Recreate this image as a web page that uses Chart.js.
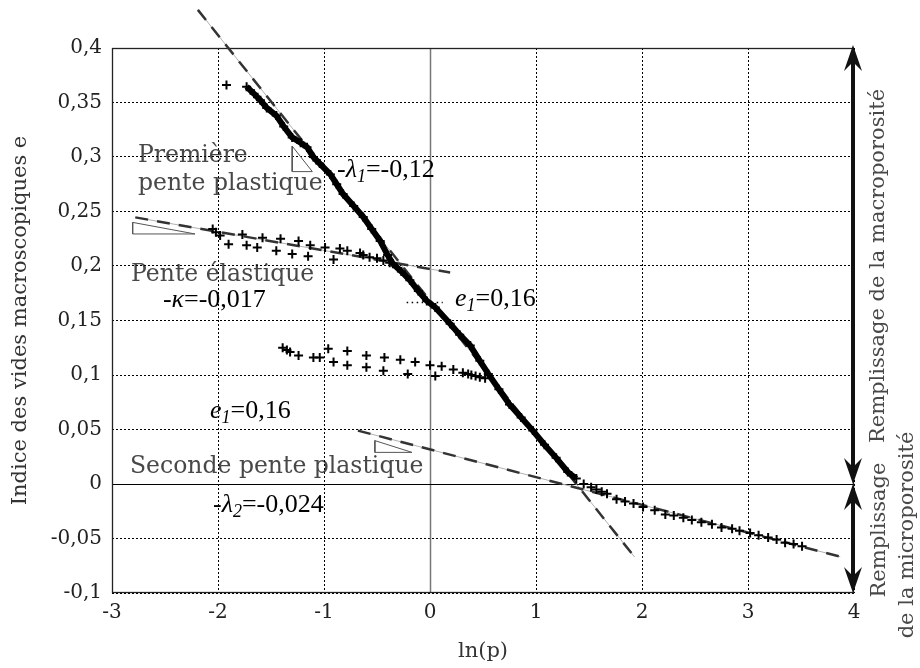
<!DOCTYPE html>
<html>
<head>
<meta charset="utf-8">
<script src="https://cdn.jsdelivr.net/npm/chart.js@4.4.0/dist/chart.umd.min.js"></script>
<style>
  html, body { margin: 0; padding: 0; background: #fff; }
  #cadre { width: 920px; height: 668px; }
</style>
</head>
<body>
<div id="cadre"><canvas id="graphe"></canvas></div>
<script>
// axes
const xTicks = [-3, -2, -1, 0, 1, 2, 3, 4];
const xTickLabels = ['-3', '-2', '-1', '0', '1', '2', '3', '4'];
const yTicks = [-0.1, -0.05, 0, 0.05, 0.1, 0.15, 0.2, 0.25, 0.3, 0.35, 0.4];
const yTickLabels = ['-0,1', '-0,05', '0', '0,05', '0,1', '0,15', '0,2', '0,25', '0,3', '0,35', '0,4'];

// chargement principal (partie dense)
const chargement = [
  {x: -1.73, y: 0.3645}, {x: -1.66, y: 0.358}, {x: -1.60, y: 0.352}, {x: -1.54, y: 0.345},
  {x: -1.45, y: 0.338}, {x: -1.38, y: 0.328}, {x: -1.30, y: 0.318}, {x: -1.22, y: 0.313},
  {x: -1.16, y: 0.309}, {x: -1.10, y: 0.300}, {x: -1.04, y: 0.294}, {x: -0.94, y: 0.284},
  {x: -0.88, y: 0.275}, {x: -0.82, y: 0.266}, {x: -0.72, y: 0.255}, {x: -0.63, y: 0.245},
  {x: -0.55, y: 0.234}, {x: -0.47, y: 0.223}, {x: -0.40, y: 0.210}, {x: -0.35, y: 0.202},
  {x: -0.27, y: 0.195}, {x: -0.19, y: 0.187}, {x: -0.11, y: 0.177}, {x: -0.03, y: 0.168},
  {x: 0.05, y: 0.162}, {x: 0.19, y: 0.147}, {x: 0.28, y: 0.137}, {x: 0.38, y: 0.127},
  {x: 0.47, y: 0.113}, {x: 0.55, y: 0.101}, {x: 0.65, y: 0.087}, {x: 0.75, y: 0.073},
  {x: 0.86, y: 0.061}, {x: 0.97, y: 0.049}, {x: 1.08, y: 0.036}, {x: 1.19, y: 0.024},
  {x: 1.30, y: 0.011}, {x: 1.38, y: 0.005}
];
// fin du chargement (seconde pente)
const chargementFin = [
  {x: 1.45, y: 0.000}, {x: 1.52, y: -0.003}, {x: 1.57, y: -0.005}, {x: 1.62, y: -0.007},
  {x: 1.67, y: -0.009}, {x: 1.76, y: -0.014}, {x: 1.84, y: -0.016}, {x: 1.92, y: -0.018},
  {x: 2.01, y: -0.021}, {x: 2.12, y: -0.024}, {x: 2.22, y: -0.028}, {x: 2.30, y: -0.029},
  {x: 2.39, y: -0.031}, {x: 2.47, y: -0.033}, {x: 2.56, y: -0.035}, {x: 2.66, y: -0.037},
  {x: 2.75, y: -0.040}, {x: 2.85, y: -0.041}, {x: 2.92, y: -0.043}, {x: 3.02, y: -0.045},
  {x: 3.10, y: -0.047}, {x: 3.19, y: -0.049}, {x: 3.27, y: -0.051}, {x: 3.35, y: -0.054},
  {x: 3.43, y: -0.055}, {x: 3.51, y: -0.057}
];
const pointIsole = [{x: -1.92, y: 0.366}];

// cycle decharge / recharge 1
const cycle1 = [
  {x: -2.05, y: 0.234}, {x: -2.02, y: 0.231}, {x: -1.98, y: 0.228}, {x: -1.77, y: 0.229},
  {x: -1.58, y: 0.226}, {x: -1.41, y: 0.225}, {x: -1.24, y: 0.223}, {x: -1.13, y: 0.219},
  {x: -0.99, y: 0.217}, {x: -0.85, y: 0.216}, {x: -0.78, y: 0.214}, {x: -0.66, y: 0.212},
  {x: -0.57, y: 0.208}, {x: -0.50, y: 0.207}, {x: -0.44, y: 0.205}, {x: -0.38, y: 0.203},
  {x: -1.90, y: 0.220}, {x: -1.73, y: 0.219}, {x: -1.63, y: 0.217}, {x: -1.45, y: 0.214},
  {x: -1.30, y: 0.211}, {x: -1.15, y: 0.209}, {x: -0.91, y: 0.206}, {x: -0.63, y: 0.210}
];
// cycle decharge / recharge 2
const cycle2 = [
  {x: -1.39, y: 0.125}, {x: -1.35, y: 0.123}, {x: -1.32, y: 0.121}, {x: -1.24, y: 0.118},
  {x: -1.10, y: 0.116}, {x: -1.04, y: 0.116}, {x: -0.96, y: 0.124}, {x: -0.91, y: 0.112},
  {x: -0.78, y: 0.122}, {x: -0.78, y: 0.109}, {x: -0.60, y: 0.118}, {x: -0.60, y: 0.107},
  {x: -0.43, y: 0.116}, {x: -0.44, y: 0.104}, {x: -0.28, y: 0.114}, {x: -0.21, y: 0.101},
  {x: -0.14, y: 0.112}, {x: 0.00, y: 0.109}, {x: 0.05, y: 0.099}, {x: 0.11, y: 0.108},
  {x: 0.22, y: 0.105}, {x: 0.31, y: 0.102}, {x: 0.36, y: 0.101}, {x: 0.39, y: 0.100},
  {x: 0.43, y: 0.099}, {x: 0.47, y: 0.098}, {x: 0.52, y: 0.097}
];

// droites de pente
const pente1 = [{x: -2.19, y: 0.435}, {x: 1.93, y: -0.067}];
const penteElastique = [{x: -2.78, y: 0.2446}, {x: 0.19, y: 0.194}];
const pente2 = [{x: -0.68, y: 0.049}, {x: 3.87, y: -0.0667}];
const repereE1 = [{x: -0.22, y: 0.1666}, {x: 0.12, y: 0.1666}];

// petits triangles de pente
const triangle1 = [{x: -1.30, y: 0.310}, {x: -1.30, y: 0.2866}, {x: -1.11, y: 0.2866}, {x: -1.30, y: 0.310}];
const triangle2 = [{x: -2.805, y: 0.240}, {x: -2.805, y: 0.2294}, {x: -2.217, y: 0.2294}, {x: -2.805, y: 0.240}];
const triangle3 = [{x: -0.52, y: 0.0398}, {x: -0.52, y: 0.029}, {x: -0.17, y: 0.029}, {x: -0.52, y: 0.0398}];

const SERIF_CM = '"DejaVu Serif", serif';
const SERIF_T = '"Liberation Serif", "Times New Roman", serif';
const GRIS = '#484848';

function ligneGrise(data) {
  return { data, showLine: true, borderColor: '#b0b0b0', borderWidth: 1, pointRadius: 0, clip: false, order: 6 };
}
function ligneTirets(data) {
  return { data, showLine: true, borderColor: '#333', borderWidth: 2.5, borderDash: [13, 9], pointRadius: 0, clip: false, order: 5 };
}
function triangle(data) {
  return { data, showLine: true, borderColor: '#555', borderWidth: 1, pointRadius: 0, order: 4 };
}
function croix(data, extra) {
  return Object.assign({ data, pointStyle: 'cross', pointRadius: 4.5, borderColor: '#000', borderWidth: 2, showLine: false, order: 1 }, extra || {});
}

function texteRiche(ctx, segs, x, y, taille) {
  let cx = x;
  for (const s of segs) {
    const fs = Math.round(s.sub ? taille * 0.68 : taille);
    ctx.font = (s.it ? 'italic ' : '') + fs + 'px ' + SERIF_T;
    ctx.fillText(s.t, cx, y + (s.sub ? Math.round(taille * 0.2) : 0));
    cx += ctx.measureText(s.t).width;
  }
}

function pointe(ctx, x, yTip, dir) {
  const L = 26, W = 9, N = 9;
  ctx.beginPath();
  ctx.moveTo(x, yTip);
  ctx.lineTo(x - W, yTip - dir * L);
  ctx.lineTo(x, yTip - dir * (L - N));
  ctx.lineTo(x + W, yTip - dir * L);
  ctx.closePath();
  ctx.fill();
}

const decor = {
  id: 'decor',
  beforeDraw(chart) {
    const {ctx, scales: {x, y}} = chart;
    const gris = [
      ['Première', -2.755, 0.295],
      ['pente plastique', -2.755, 0.270],
      ['Pente élastique', -2.82, 0.1865],
      ['Seconde pente plastique', -2.83, 0.0104]
    ];
    ctx.save();
    ctx.fillStyle = GRIS;
    ctx.font = '23.5px ' + SERIF_CM;
    ctx.textBaseline = 'alphabetic';
    ctx.textAlign = 'left';
    for (const [t, vx, vy] of gris) ctx.fillText(t, x.getPixelForValue(vx), y.getPixelForValue(vy));
    ctx.restore();
  },
  beforeDatasetsDraw(chart) {
    const {ctx, chartArea: a, scales: {x, y}} = chart;
    ctx.save();
    // axe x = 0 (gris) et y = 0 (noir)
    const x0 = Math.round(x.getPixelForValue(0)) + 0.5;
    const y0 = Math.round(y.getPixelForValue(0)) + 0.5;
    ctx.strokeStyle = '#777';
    ctx.lineWidth = 1.5;
    ctx.beginPath(); ctx.moveTo(x0, a.top); ctx.lineTo(x0, a.bottom); ctx.stroke();
    ctx.strokeStyle = '#000';
    ctx.lineWidth = 1.2;
    ctx.beginPath(); ctx.moveTo(a.left, y0); ctx.lineTo(a.right, y0); ctx.stroke();
    // cadre
    ctx.lineWidth = 1.3;
    ctx.strokeStyle = '#222';
    ctx.strokeRect(a.left + 0.5, a.top + 0.5, a.right - a.left - 1, a.bottom - a.top - 1);
    ctx.restore();
  },
  afterDatasetsDraw(chart) {
    const {ctx, chartArea: a, scales: {x, y}} = chart;
    ctx.save();
    ctx.fillStyle = '#000';
    ctx.textBaseline = 'alphabetic';
    ctx.textAlign = 'left';
    const P = (vx, vy) => [x.getPixelForValue(vx), y.getPixelForValue(vy)];
    const T = 26;
    let p;
    p = P(-0.877, 0.282);
    texteRiche(ctx, [{t: '-'}, {t: 'λ', it: true}, {t: '1', it: true, sub: true}, {t: '=-0,12'}], p[0], p[1], T);
    p = P(-2.52, 0.1627);
    texteRiche(ctx, [{t: '-'}, {t: 'κ', it: true}, {t: '=-0,017'}], p[0], p[1], T);
    p = P(0.236, 0.1636);
    texteRiche(ctx, [{t: 'e', it: true}, {t: '1', it: true, sub: true}, {t: '=0,16'}], p[0], p[1], T);
    p = P(-2.075, 0.0608);
    texteRiche(ctx, [{t: 'e', it: true}, {t: '1', it: true, sub: true}, {t: '=0,16'}], p[0], p[1], T);
    p = P(-2.047, -0.0254);
    texteRiche(ctx, [{t: '-'}, {t: 'λ', it: true}, {t: '2', it: true, sub: true}, {t: '=-0,024'}], p[0], p[1], T);

    // doubles fleches a droite
    const xf = a.right - 1;
    const yHaut = y.getPixelForValue(0.4) - 3;
    const yMil = y.getPixelForValue(0);
    const yBas = y.getPixelForValue(-0.1);
    ctx.strokeStyle = '#111';
    ctx.fillStyle = '#111';
    ctx.lineWidth = 4;
    ctx.beginPath(); ctx.moveTo(xf, yHaut + 12); ctx.lineTo(xf, yMil - 12); ctx.stroke();
    ctx.beginPath(); ctx.moveTo(xf, yMil + 12); ctx.lineTo(xf, yBas - 12); ctx.stroke();
    pointe(ctx, xf, yHaut, -1);
    pointe(ctx, xf, yMil, 1);
    pointe(ctx, xf, yMil, -1);
    pointe(ctx, xf, yBas, 1);

    // textes verticaux
    ctx.fillStyle = GRIS;
    ctx.font = '21px ' + SERIF_CM;
    ctx.textAlign = 'center';
    ctx.textBaseline = 'middle';
    const vertical = (t, cx, cy) => {
      ctx.save(); ctx.translate(cx, cy); ctx.rotate(-Math.PI / 2); ctx.fillText(t, 0, 0); ctx.restore();
    };
    vertical('Remplissage de la macroporosité', 879, 266);
    vertical('Remplissage', 880, 530);
    vertical('de la microporosité', 908, 535);
    ctx.restore();
  }
};

new Chart(document.getElementById('graphe'), {
  type: 'scatter',
  data: {
    datasets: [
      croix(chargement, { showLine: true, borderWidth: 2, pointRadius: 4.5, borderColor: '#000', backgroundColor: '#000' }),
      Object.assign(ligneTirets(chargement), { borderDash: [], borderWidth: 6, borderColor: '#000', clip: true, order: 2 }),
      croix(chargementFin),
      croix(pointIsole),
      croix(cycle1),
      croix(cycle2),
      ligneGrise(pente1), ligneTirets(pente1),
      ligneGrise(penteElastique), ligneTirets(penteElastique),
      ligneGrise(pente2), ligneTirets(pente2),
      { data: repereE1, showLine: true, borderColor: '#000', borderWidth: 1.5, borderDash: [1.5, 3.5], pointRadius: 0, order: 3 },
      triangle(triangle1), triangle(triangle2), triangle(triangle3)
    ]
  },
  options: {
    responsive: true,
    maintainAspectRatio: false,
    animation: false,
    layout: { padding: { top: 48, right: 66, left: 0, bottom: 0 } },
    plugins: { legend: { display: false }, tooltip: { enabled: false } },
    scales: {
      x: {
        type: 'linear', min: -3, max: 4,
        afterBuildTicks: s => { s.ticks = xTicks.map(v => ({ value: v })); },
        afterFit: s => { s.height = 75; },
        ticks: { callback: (v, i) => xTickLabels[i], font: { family: SERIF_CM, size: 20 }, color: '#222', padding: 8, maxRotation: 0 },
        grid: { color: '#000', lineWidth: 1, drawTicks: false },
        border: { display: false, dash: [2, 2] },
        title: { display: true, text: 'ln(p)', font: { family: SERIF_CM, size: 21 }, color: '#333', padding: { bottom: 4, top: 0 } }
      },
      y: {
        type: 'linear', min: -0.1, max: 0.4,
        afterBuildTicks: s => { s.ticks = yTicks.map(v => ({ value: v })); },
        afterFit: s => { s.width = 112; },
        ticks: { callback: (v, i) => yTickLabels[i], font: { family: SERIF_CM, size: 20 }, color: '#222', padding: 10 },
        grid: { color: '#000', lineWidth: 1, drawTicks: false },
        border: { display: false, dash: [2, 2] },
        title: { display: true, text: 'Indice des vides macroscopiques e', font: { family: SERIF_CM, size: 21 }, color: '#333', padding: { top: 8, bottom: 0 } }
      }
    }
  },
  plugins: [decor]
});
</script>
</body>
</html>
